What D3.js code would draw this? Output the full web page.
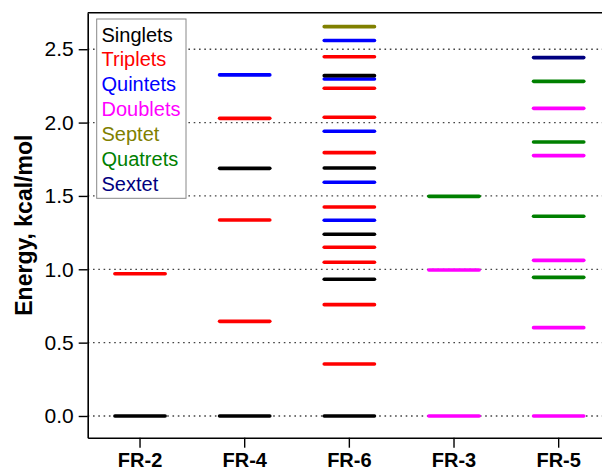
<!DOCTYPE html>
<html>
<head>
<meta charset="utf-8">
<script src="https://cdn.jsdelivr.net/npm/d3@7"></script>
<style>
  body { margin: 0; background: #fff; }
  svg { font-family: "Liberation Sans", Arial, sans-serif; }
</style>
</head>
<body>
<div id="chart"></div>
<script>
// categories on the x axis
const categories = ['FR-2', 'FR-4', 'FR-6', 'FR-3', 'FR-5'];

// spin states (legend order) and their colours
const states = ['Singlets', 'Triplets', 'Quintets', 'Doublets', 'Septet', 'Quatrets', 'Sextet'];
const stateColors = ['#000000', '#ff0000', '#0000ff', '#ff00ff', '#808000', '#008000', '#000080'];

// energy levels per molecule: [state, kcal/mol]
const fr2Levels = [['Singlets', 0], ['Triplets', 0.97]];
const fr4Levels = [['Singlets', 0], ['Triplets', 0.645], ['Triplets', 1.336], ['Singlets', 1.688],
  ['Triplets', 2.029], ['Quintets', 2.325]];
const fr6Levels = [['Singlets', 0], ['Triplets', 0.354], ['Triplets', 0.759], ['Singlets', 0.932],
  ['Triplets', 1.048], ['Triplets', 1.15], ['Singlets', 1.239], ['Quintets', 1.334],
  ['Triplets', 1.425], ['Quintets', 1.593], ['Singlets', 1.69], ['Triplets', 1.795],
  ['Quintets', 1.941], ['Triplets', 2.036], ['Triplets', 2.234], ['Quintets', 2.297],
  ['Singlets', 2.32], ['Triplets', 2.449], ['Quintets', 2.559], ['Septet', 2.654]];
const fr3Levels = [['Doublets', 0], ['Doublets', 0.995], ['Quatrets', 1.497]];
const fr5Levels = [['Doublets', 0], ['Doublets', 0.602], ['Quatrets', 0.945], ['Doublets', 1.061],
  ['Quatrets', 1.361], ['Doublets', 1.775], ['Quatrets', 1.868], ['Doublets', 2.097],
  ['Quatrets', 2.281], ['Sextet', 2.443]];

// y tick values
const yTicks = [0, 0.5, 1.0, 1.5, 2.0, 2.5];

const levelsByCat = [fr2Levels, fr4Levels, fr6Levels, fr3Levels, fr5Levels];

var width = 602, height = 470;
var margin = { top: 12.7, left: 87.7, bottom: 32.3 };
var plotRight = 611; // frame runs past the window edge

var svg = d3.select('#chart')
  .append('svg')
  .attr('width', width)
  .attr('height', height);

var x = d3.scaleBand().domain(categories).range([margin.left, plotRight]);
var y = d3.scaleLinear().domain([-0.148, 2.749]).range([height - margin.bottom, margin.top]);
var color = d3.scaleOrdinal().domain(states).range(stateColors);

// dotted grid
svg.append('g')
  .selectAll('line')
  .data(yTicks)
  .join('line')
  .attr('x1', margin.left)
  .attr('x2', plotRight)
  .attr('y1', d => y(d))
  .attr('y2', d => y(d))
  .attr('stroke', '#444')
  .attr('stroke-width', 1.3)
  .attr('stroke-dasharray', '1.6,3.7');

// energy levels
var half = x.bandwidth() * 0.24;
categories.forEach(function (cat, i) {
  svg.append('g')
    .selectAll('line')
    .data(levelsByCat[i])
    .join('line')
    .attr('x1', x(cat) + x.bandwidth() / 2 - half)
    .attr('x2', x(cat) + x.bandwidth() / 2 + half)
    .attr('y1', d => y(d[1]))
    .attr('y2', d => y(d[1]))
    .attr('stroke', d => color(d[0]))
    .attr('stroke-width', 3.6)
    .attr('stroke-linecap', 'round');
});

// frame (top)
svg.append('line')
  .attr('x1', margin.left).attr('x2', plotRight)
  .attr('y1', y.range()[1]).attr('y2', y.range()[1])
  .attr('stroke', '#000').attr('stroke-width', 1.6);

// Y axis
var yAxis = svg.append('g')
  .attr('transform', 'translate(' + margin.left + ',0)')
  .call(d3.axisLeft(y).tickValues(yTicks).tickFormat(d3.format('.1f')).tickSize(9).tickSizeOuter(0).tickPadding(5));
yAxis.select('.domain').attr('stroke-width', 1.6);
yAxis.selectAll('.tick line').attr('stroke-width', 1.4);
yAxis.selectAll('text')
  .style('font-size', '21px')
  .style('font-family', '"Liberation Sans", Arial, sans-serif')
  .attr('fill', '#000');

// X axis
var xAxis = svg.append('g')
  .attr('transform', 'translate(0,' + (height - margin.bottom) + ')')
  .call(d3.axisBottom(x).tickSize(10).tickSizeOuter(0).tickPadding(5));
xAxis.select('.domain').attr('stroke-width', 1.6);
xAxis.selectAll('.tick line').attr('stroke-width', 1.4);
xAxis.selectAll('text')
  .style('font-size', '20px')
  .style('font-weight', 'bold')
  .style('font-family', '"Liberation Sans", Arial, sans-serif')
  .attr('fill', '#000');

// Y label
svg.append('text')
  .attr('text-anchor', 'middle')
  .attr('transform', 'translate(32,' + (margin.top + y.range()[0]) / 2 + ')rotate(-90)')
  .style('font-size', '23px')
  .style('font-weight', 'bold')
  .text('Energy, kcal/mol');

// legend
var legend = svg.append('g');
legend.append('rect')
  .attr('x', 96.7).attr('y', 19)
  .attr('width', 89.3).attr('height', 179.3)
  .attr('fill', '#fff')
  .attr('stroke', '#888')
  .attr('stroke-width', 1);
legend.selectAll('text')
  .data(states)
  .join('text')
  .attr('x', 101.5)
  .attr('y', (d, i) => 41.5 + i * 24.9)
  .attr('fill', d => color(d))
  .style('font-size', '20px')
  .text(d => d);
</script>
</body>
</html>
